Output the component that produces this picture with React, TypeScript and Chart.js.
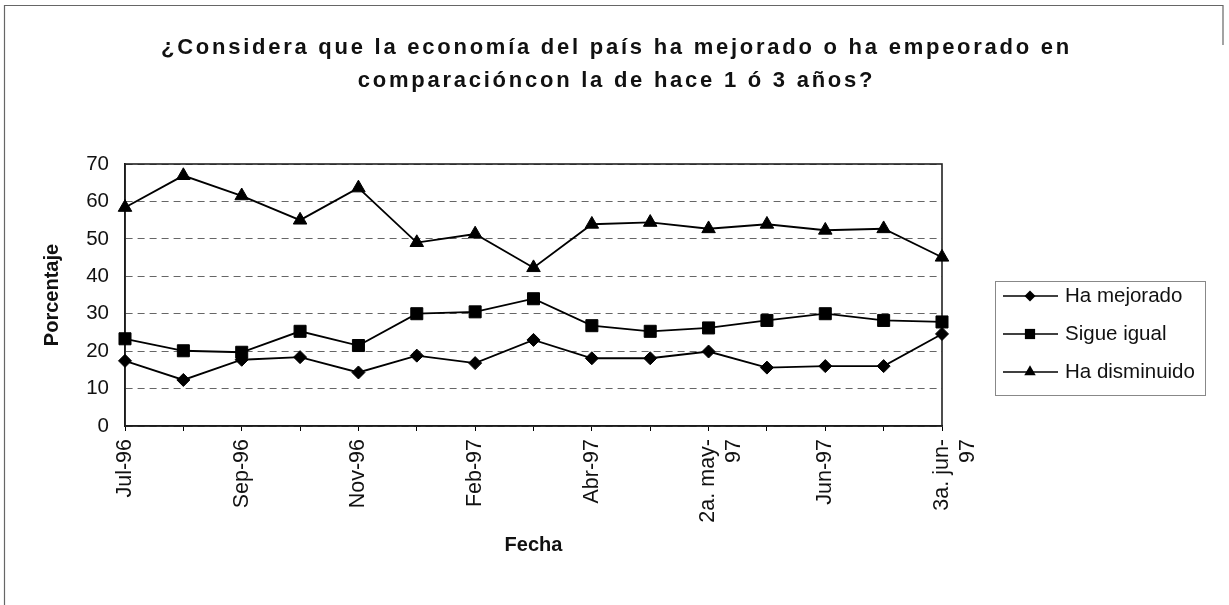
import React, { useEffect, useRef } from 'react';
import { Chart, registerables } from 'chart.js';

Chart.register(...registerables);

const categories = [
  'Jul-96', 'Ago-96', 'Sep-96', 'Oct-96', 'Nov-96', 'Ene-97', 'Feb-97', 'Mar-97',
  'Abr-97', '1a. may-97', '2a. may-97', '3a. may-97', 'Jun-97', '2a. jun-97', '3a. jun-97',
];
const haMejorado = [17.4, 12.3, 17.7, 18.4, 14.3, 18.8, 16.8, 23.0, 18.1, 18.1, 19.9, 15.6, 16.0, 16.0, 24.6];
const sigueIgual = [23.3, 20.1, 19.7, 25.3, 21.5, 30.0, 30.5, 34.0, 26.8, 25.3, 26.2, 28.2, 30.0, 28.2, 27.8];
const haDisminuido = [58.4, 66.9, 61.5, 55.0, 63.6, 49.0, 51.3, 42.3, 53.9, 54.4, 52.7, 53.9, 52.3, 52.7, 45.1];
const seriesNames = ['Ha mejorado', 'Sigue igual', 'Ha disminuido'];
const yMin = 0;
const yMax = 70;
const yStep = 10;
const titleLines = [
  '¿Considera que la economía del país ha mejorado o ha empeorado en',
  'comparacióncon la de hace 1 ó 3 años?',
];
const xTitle = 'Fecha';
const yTitle = 'Porcentaje';

const FONT = "'Liberation Sans', Arial, sans-serif";

function splitLabel(label: string): string | string[] {
  if (label.length > 7) {
    const i = label.lastIndexOf('-');
    return [label.slice(0, i + 1), label.slice(i + 1)];
  }
  return label;
}

function drawMarker(ctx: CanvasRenderingContext2D, style: string, x: number, y: number, r: number) {
  ctx.beginPath();
  if (style === 'rectRot') {
    ctx.moveTo(x, y - r);
    ctx.lineTo(x + r, y);
    ctx.lineTo(x, y + r);
    ctx.lineTo(x - r, y);
    ctx.closePath();
  } else if (style === 'rect') {
    const s = r * Math.SQRT1_2;
    ctx.rect(x - s, y - s, 2 * s, 2 * s);
  } else {
    const k = Math.sin(Math.PI / 3) * r;
    ctx.moveTo(x, y - r);
    ctx.lineTo(x + k, y + r / 2);
    ctx.lineTo(x - k, y + r / 2);
    ctx.closePath();
  }
  ctx.fill();
}

const decorPlugin = {
  id: 'decor',
  beforeDraw(chart: any) {
    const { ctx, width, height } = chart;
    ctx.save();
    ctx.fillStyle = '#fff';
    ctx.fillRect(0, 0, width, height);
    // page frame
    ctx.strokeStyle = '#666';
    ctx.lineWidth = 1.2;
    ctx.beginPath();
    ctx.moveTo(4.5, height);
    ctx.lineTo(4.5, 5.5);
    ctx.lineTo(width - 6, 5.5);
    ctx.lineTo(width - 6, 45);
    ctx.stroke();
    // title
    ctx.fillStyle = '#111';
    ctx.font = `bold 22px ${FONT}`;
    ctx.textAlign = 'center';
    ctx.textBaseline = 'middle';
    try { (ctx as any).letterSpacing = '2.75px'; } catch (e) {}
    titleLines.forEach((line, i) => {
      ctx.fillText(line, width / 2 + 2, 48 + i * 33);
    });
    try { (ctx as any).letterSpacing = '0px'; } catch (e) {}
    ctx.restore();
  },
  beforeDatasetsDraw(chart: any) {
    const { ctx, chartArea } = chart;
    ctx.save();
    ctx.strokeStyle = '#222';
    ctx.lineWidth = 1.6;
    ctx.strokeRect(chartArea.left, chartArea.top, chartArea.right - chartArea.left, chartArea.bottom - chartArea.top);
    ctx.restore();
  },
  afterDraw(chart: any) {
    const { ctx, chartArea } = chart;
    const bx = chartArea.right + 53;
    const by = chartArea.top + 117;
    const bw = 210;
    const bh = 114;
    ctx.save();
    ctx.strokeStyle = '#888';
    ctx.lineWidth = 1;
    ctx.strokeRect(bx + 0.5, by + 0.5, bw, bh);
    ctx.font = `20.5px ${FONT}`;
    ctx.textAlign = 'left';
    ctx.textBaseline = 'middle';
    chart.data.datasets.forEach((ds: any, i: number) => {
      const y = by + 15 + i * 38;
      ctx.strokeStyle = '#000';
      ctx.lineWidth = 1.6;
      ctx.beginPath();
      ctx.moveTo(bx + 8, y);
      ctx.lineTo(bx + 63, y);
      ctx.stroke();
      ctx.fillStyle = '#000';
      drawMarker(ctx, ds.pointStyle, bx + 35, y, ds.pointRadius * 0.85);
      ctx.fillStyle = '#111';
      ctx.fillText(ds.label, bx + 70, y);
    });
    ctx.restore();
  },
};

export default function App() {
  const canvasRef = useRef<HTMLCanvasElement | null>(null);

  useEffect(() => {
    const canvas = canvasRef.current;
    if (!canvas) return;
    Chart.defaults.font.family = FONT;
    Chart.defaults.color = '#111';

    const common = {
      borderColor: '#000',
      backgroundColor: '#000',
      pointBackgroundColor: '#000',
      pointBorderColor: '#000',
      pointBorderWidth: 1,
      borderWidth: 1.8,
      tension: 0,
      clip: false as any,
    };

    const chart = new Chart(canvas, {
      type: 'line',
      data: {
        labels: categories,
        datasets: [
          { ...common, label: seriesNames[0], data: haMejorado, pointStyle: 'rectRot', pointRadius: 6.5 },
          { ...common, label: seriesNames[1], data: sigueIgual, pointStyle: 'rect', pointRadius: 8.5 },
          { ...common, label: seriesNames[2], data: haDisminuido, pointStyle: 'triangle', pointRadius: 7.8 },
        ],
      },
      plugins: [decorPlugin],
      options: {
        responsive: false,
        animation: false,
        events: [],
        layout: { padding: { top: 164, right: 287, bottom: 0, left: 0 } },
        plugins: {
          legend: { display: false },
          title: { display: false },
          tooltip: { enabled: false },
        },
        scales: {
          x: {
            type: 'category',
            offset: false,
            grid: {
              display: true,
              drawOnChartArea: false,
              drawTicks: true,
              tickLength: 5,
              color: '#000',
              lineWidth: 1,
            },
            border: { display: true, color: '#000', width: 1.6 },
            ticks: {
              autoSkip: false,
              maxRotation: 90,
              minRotation: 90,
              padding: 8,
              color: '#111',
              font: { size: 21.5 },
              callback: (_v: any, idx: number) => (idx % 2 === 0 ? splitLabel(categories[idx]) : ''),
            },
            title: {
              display: true,
              text: xTitle,
              color: '#111',
              font: { size: 20, weight: 'bold' },
              padding: { top: 0, bottom: 48 },
            },
            afterFit: (s: any) => {
              s.height = 179;
            },
          },
          y: {
            min: yMin,
            max: yMax,
            ticks: {
              stepSize: yStep,
              padding: 16,
              color: '#111',
              font: { size: 20.5 },
            },
            grid: {
              drawTicks: false,
              color: '#666',
              lineWidth: 1,
            },
            border: { display: true, color: '#000', width: 1.6, dash: [7, 5] },
            title: {
              display: true,
              text: yTitle,
              color: '#111',
              font: { size: 20, weight: 'bold' },
              padding: { top: 40, bottom: 0 },
            },
            afterFit: (s: any) => {
              s.width = 125;
            },
          },
        },
      } as any,
    });

    return () => chart.destroy();
  }, []);

  return (
    <div style={{ position: 'absolute', left: 0, top: 0, width: 1229, height: 605, background: '#fff' }}>
      <canvas ref={canvasRef} width={1229} height={605} style={{ display: 'block' }} />
    </div>
  );
}
